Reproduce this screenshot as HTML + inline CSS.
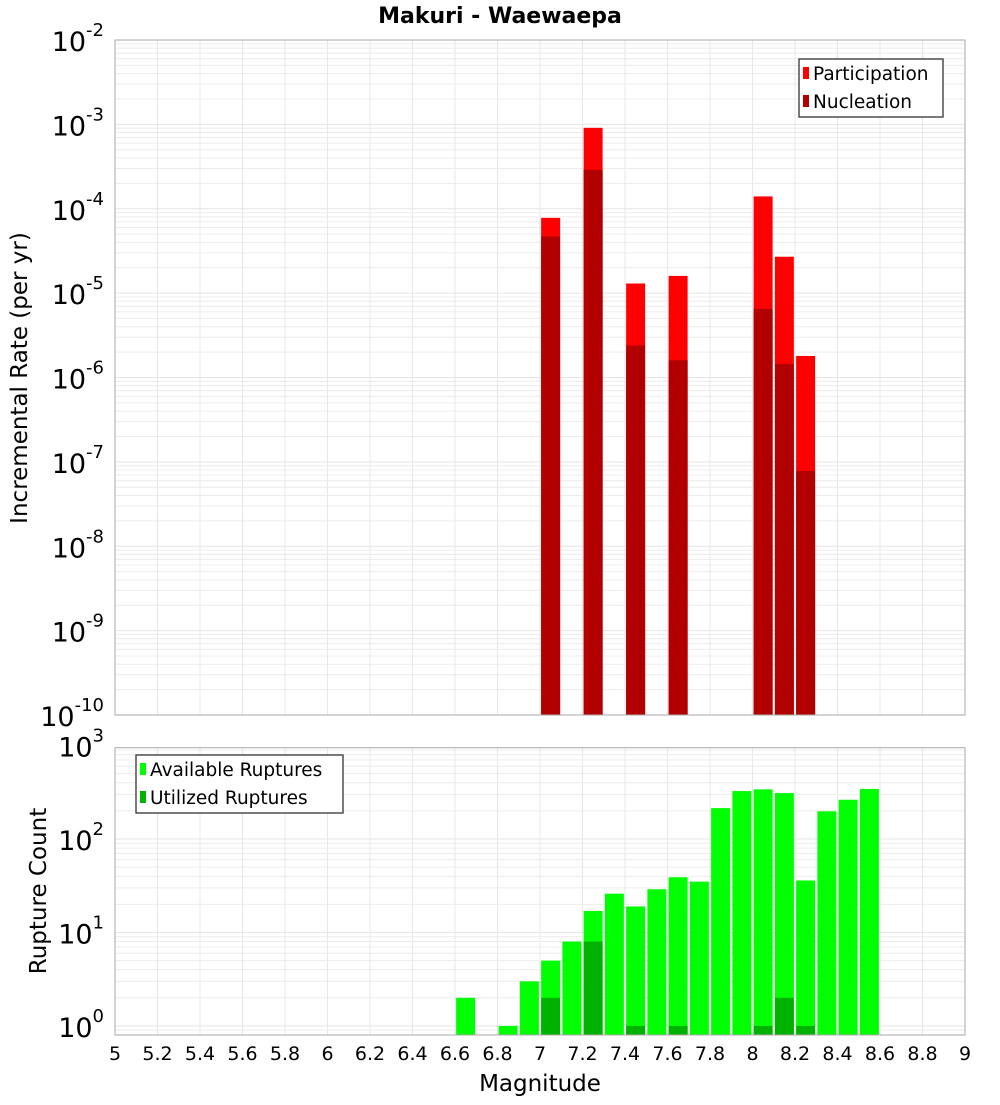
<!DOCTYPE html>
<html><head><meta charset="utf-8"><style>
body{margin:0;background:#fff;}
svg text{font-family:"DejaVu Sans","Liberation Sans",sans-serif;}
</style></head><body>
<svg id="chart" width="1000" height="1100" xmlns="http://www.w3.org/2000/svg"></svg>
<script>
const ns="http://www.w3.org/2000/svg";
// top chart data
const rateMags=[7.05,7.25,7.45,7.65,8.05,8.15,8.25];
const participation=[7.8e-5,9.1e-4,1.3e-5,1.6e-5,1.4e-4,2.7e-5,1.8e-6];
const nucleation=[4.7e-5,2.9e-4,2.4e-6,1.6e-6,6.5e-6,1.45e-6,7.8e-8];
// bottom chart data
const countMags=[6.65,6.85,6.95,7.05,7.15,7.25,7.35,7.45,7.55,7.65,7.75,7.85,7.95,8.05,8.15,8.25,8.35,8.45,8.55];
const available=[2,1,3,5,8,17,26,19,29,39,35,214,326,340,310,36,198,263,343];
const utilized=[0,0,0,2,0,8,0,1,0,1,0,0,0,1,2,1,0,0,0];
const xTicks=["5","5.2","5.4","5.6","5.8","6","6.2","6.4","6.6","6.8","7","7.2","7.4","7.6","7.8","8","8.2","8.4","8.6","8.8","9"];
const topExp=[-10,-9,-8,-7,-6,-5,-4,-3,-2];
const botExp=[0,1,2,3];

const svg=document.getElementById('chart');
function el(t,a,p){const e=document.createElementNS(ns,t);for(const k in a)e.setAttribute(k,a[k]);(p||svg).appendChild(e);return e;}
const X0=115,X1=965;
const xs=m=>X0+(m-5)/4*(X1-X0);
const T0=40,T1=715;
const yTop=v=>T1-(Math.log10(v)+10)/8*(T1-T0);
const B0=747.7,B1=1035,bLo=Math.log10(0.8),bHi=2.977;
const yBot=v=>B1-(Math.log10(v)-bLo)/(bHi-bLo)*(B1-B0);

let t=el('text',{x:500,y:23,'text-anchor':'middle','font-size':22,'font-weight':'bold'});t.textContent='Makuri - Waewaepa';


function grid(y0,y1,yf,lo,hi,name){
  const g=el('g',{});
  
  
  for(let e=Math.floor(lo);e<=Math.ceil(hi);e++){for(let k=1;k<10;k++){const v=k*Math.pow(10,e);const lv=Math.log10(v);if(lv<lo||lv>hi)continue;const y=yf(v);el('line',{x1:X0,x2:X1,y1:y,y2:y,stroke:k==1?'#e4e4e4':'#ececec','stroke-width':1},g);}}
  for(let i=0;i<xTicks.length;i++){const x=xs(+xTicks[i]);el('line',{x1:x,x2:x,y1:y0,y2:y1,stroke:'#e8e8e8'},g);}
}
grid(T0,T1,yTop,-10,-2,'top-grid');
grid(B0,B1,yBot,bLo,bHi,'bottom-grid');

const bw=19;
for(let i=0;i<rateMags.length;i++){
  const x=xs(rateMags[i])-bw/2;
  let r=el('rect',{x:x,y:yTop(participation[i]),width:bw,height:T1-yTop(participation[i]),fill:'#ff0000'});
  
  r=el('rect',{x:x,y:yTop(nucleation[i]),width:bw,height:T1-yTop(nucleation[i]),fill:'#b20000'});
  
}
for(let i=0;i<countMags.length;i++){
  const x=xs(countMags[i])-bw/2;
  let r=el('rect',{x:x,y:yBot(available[i]),width:bw,height:B1-yBot(available[i]),fill:'#00ff00'});
  
  if(utilized[i]>0){r=el('rect',{x:x,y:yBot(utilized[i]),width:bw,height:B1-yBot(utilized[i]),fill:'#00b200'});
  }
}
el('rect',{x:X0,y:T0,width:X1-X0,height:T1-T0,fill:'none',stroke:'#aaa'});
el('rect',{x:X0,y:B0,width:X1-X0,height:B1-B0,fill:'none',stroke:'#aaa'});

function ylab(y,e,name){
  const g=el('text',{x:104,y:y+11,'text-anchor':'end','font-size':27});
  
  const a=el('tspan',{},g);a.textContent='10';
  const b=el('tspan',{dy:-15,'font-size':18},g);b.textContent=String(e);
}
for(let i=0;i<topExp.length;i++)ylab(yTop(Math.pow(10,topExp[i])),topExp[i],'top-y-tick');
for(let i=0;i<botExp.length;i++)ylab(yBot(Math.pow(10,botExp[i])),botExp[i],'bottom-y-tick');
for(let i=0;i<xTicks.length;i++){
  const tx=el('text',{x:xs(+xTicks[i]),y:1060,'text-anchor':'middle','font-size':19});
  tx.textContent=xTicks[i];
  
}
t=el('text',{x:540,y:1091,'text-anchor':'middle','font-size':23});t.textContent='Magnitude';

t=el('text',{x:0,y:0,'text-anchor':'middle','font-size':23,transform:'translate(27,378) rotate(-90)'});t.textContent='Incremental Rate (per yr)';

t=el('text',{x:0,y:0,'text-anchor':'middle','font-size':23,transform:'translate(46,891) rotate(-90)'});t.textContent='Rupture Count';


function legend(x,y,w,items,name){
  const g=el('g',{});
  
  el('rect',{x:x,y:y,width:w,height:58,fill:'#fff',stroke:'#333','stroke-width':1.3},g);
  items.forEach((it,i)=>{
    el('rect',{x:x+4,y:y+8+i*28,width:6,height:12,fill:it[1]},g);
    const tx=el('text',{x:x+14,y:y+21+i*28,'font-size':18.5},g);tx.textContent=it[0];
  });
}
legend(799,59,144,[['Participation','#ff0000'],['Nucleation','#b20000']],'top-legend');
legend(136,755,207,[['Available Ruptures','#00ff00'],['Utilized Ruptures','#00b200']],'bottom-legend');
</script>
</body></html>
